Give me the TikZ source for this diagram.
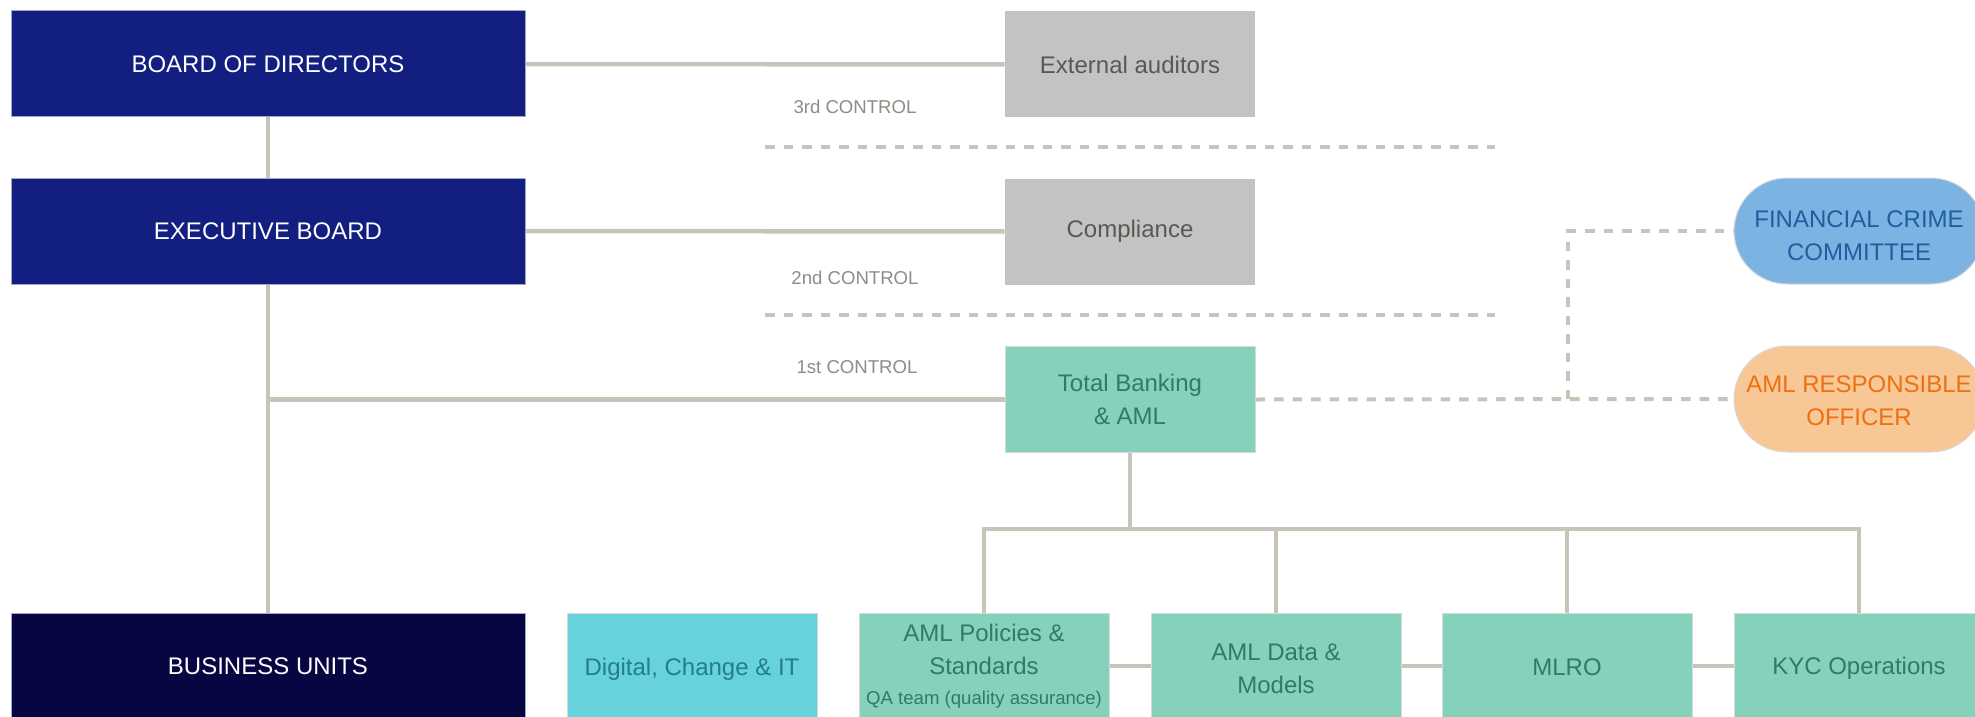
\documentclass[tikz,border=0pt]{standalone}
\usepackage{fontspec}
\setmainfont{Liberation Sans}
\usetikzlibrary{backgrounds}
\definecolor{navy}{HTML}{121F80}
\definecolor{darknavy}{HTML}{070642}
\definecolor{navyedge}{HTML}{A3A6C9}
\definecolor{greybox}{HTML}{C3C3C3}
\definecolor{greytext}{HTML}{5B5853}
\definecolor{tealbox}{HTML}{84D2BC}
\definecolor{tealtext}{HTML}{2E7B67}
\definecolor{cyanbox}{HTML}{66D3DC}
\definecolor{cyantext}{HTML}{237D8F}
\definecolor{linec}{HTML}{C8C4BA}
\definecolor{ctrltext}{HTML}{8F8B85}
\definecolor{fccfill}{HTML}{7DB3E3}
\definecolor{fcctext}{HTML}{1F5E9F}
\definecolor{amlfill}{HTML}{F8C796}
\definecolor{amltext}{HTML}{EE7011}
\definecolor{lightedge}{HTML}{D9D9D9}
\tikzset{
  box/.style={rectangle, inner sep=0pt, minimum width=125pt, minimum height=53pt, align=center,
    font=\fontsize{12}{16.5}\selectfont},
  navybox/.style={box, fill=navy, draw=navyedge, line width=0.5pt, text=white, minimum width=257pt},
  bubox/.style={box, fill=darknavy, draw=navyedge, line width=0.5pt, text=white, minimum width=257pt},
  greyb/.style={box, fill=greybox, text=greytext},
  tealb/.style={box, fill=tealbox, draw=lightedge, line width=0.5pt, text=tealtext},
  cyanb/.style={box, fill=cyanbox, draw=lightedge, line width=0.5pt, text=cyantext},
  pill/.style={box, rounded corners=26.5pt, draw=lightedge, line width=0.5pt},
  lbl/.style={align=center, inner sep=0pt, font=\fontsize{12}{16.5}\selectfont},
  ctrl/.style={font=\fontsize{9.3}{11}\selectfont, text=ctrltext, inner sep=0pt},
  conn/.style={draw=linec, line width=2.25pt},
  dashconn/.style={draw=linec, line width=2pt, dash pattern=on 4.75pt off 4.5pt},
}
\begin{document}
\begin{tikzpicture}[x=0.5pt,y=-0.5pt]
\useasboundingbox (0,0) rectangle (1975,717);
\clip (0,0) rectangle (1975,717);

% left column
\node (board) [navybox] at (268,64) {BOARD OF DIRECTORS};
\node (exec) [navybox] at (268,231) {EXECUTIVE BOARD};
\node (bu) [bubox] at (268,666) {BUSINESS UNITS};

% control column
\node (ext) [greyb] at (1130,64.5) {External auditors};
\node (comp) [greyb] at (1130,231.5) {Compliance};
\node (tb) [tealb] at (1130,399.5) {Total Banking\\\& AML};

% control labels
\node (c3) [ctrl] at (855,107) {3rd CONTROL};
\node (c2) [ctrl] at (855,278) {2nd CONTROL};
\node (c1) [ctrl] at (857,367) {1st CONTROL};

% right side pills
\node (fcc) [pill, fill=fccfill,
  label={[lbl, text=fcctext, yshift=-2.5pt]center:{FINANCIAL CRIME\\COMMITTEE}}] at (1859,231) {};
\node (aml) [pill, fill=amlfill,
  label={[lbl, text=amltext, yshift=-1pt]center:{AML RESPONSIBLE\\OFFICER}}] at (1859,399) {};

% bottom row
\node (dig) [cyanb, label={[lbl, text=cyantext, yshift=-1.5pt]center:{Digital, Change \& IT}}] at (692,666) {};
\node (pol) [tealb] at (984,666) {};
\node (polt) [lbl, text=tealtext] at (984,649.5) {AML Policies \&\\Standards};
\node (polq) [text=tealtext, inner sep=0pt, font=\fontsize{9.3}{11}\selectfont] at (984,700) {QA team (quality assurance)};
\node (data) [tealb, label={[lbl, text=tealtext, yshift=-1.5pt]center:{AML Data \&\\Models}}] at (1276,666) {};
\node (mlro) [tealb, label={[lbl, text=tealtext, yshift=-0.75pt]center:{MLRO}}] at (1567,666) {};
\node (kyc) [tealb, label={[lbl, text=tealtext, yshift=-1.25pt]center:{KYC Operations}}] at (1859,666) {};

% coordinates
\coordinate (j1) at (board.south |- tb.west);
\coordinate (br) at (1130,529);
\coordinate (dj) at (1568,399);
\coordinate (d3a) at (765,147);
\coordinate (d3b) at (1495,147);
\coordinate (d2a) at (765,315);
\coordinate (d2b) at (1495,315);

\begin{scope}[on background layer]
  \draw[conn] (board.south) -- (bu.north);
  \draw[conn] (board.east) -- (ext.west);
  \draw[conn] (exec.east) -- (comp.west);
  \draw[conn] (j1) -- (tb.west);
  \draw[conn] (tb.south) -- (br);
  \draw[conn] (pol.north) -- (pol.north |- br) -- (kyc.north |- br) -- (kyc.north);
  \draw[conn] (data.north) -- (data.north |- br);
  \draw[conn] (mlro.north) -- (mlro.north |- br);
  \draw[conn] (pol.east) -- (data.west);
  \draw[conn] (data.east) -- (mlro.west);
  \draw[conn] (mlro.east) -- (kyc.west);
  \draw[dashconn] (d3a) -- (d3b);
  \draw[dashconn] (d2a) -- (d2b);
  \draw[dashconn] (tb.east) -- (aml.west);
  \draw[dashconn] (dj) |- (fcc.west);
\end{scope}
\end{tikzpicture}
\end{document}
